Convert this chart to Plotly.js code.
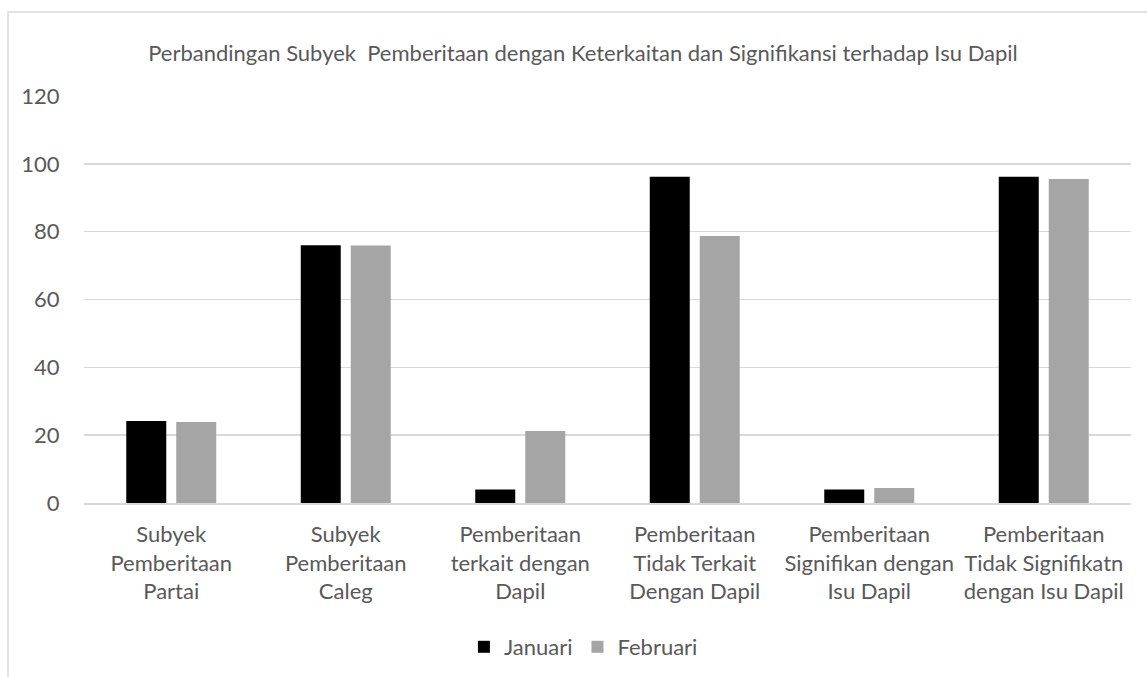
<!DOCTYPE html>
<html>
<head>
<meta charset="utf-8">
<script src="https://cdn.plot.ly/plotly-3.0.1.min.js"></script>
<style>
  html, body { margin: 0; padding: 0; background: #ffffff; }
  #chart { width: 1147px; height: 677px; }
</style>
</head>
<body>
<div id="chart"></div>
<script>
// ---- data ----
var categories = [
  "Subyek Pemberitaan Partai",
  "Subyek Pemberitaan Caleg",
  "Pemberitaan terkait dengan Dapil",
  "Pemberitaan Tidak Terkait Dengan Dapil",
  "Pemberitaan Signifikan dengan Isu Dapil",
  "Pemberitaan Tidak Signifikatn dengan Isu Dapil"
];
var tickLabels = [
  "Subyek<br>Pemberitaan<br>Partai",
  "Subyek<br>Pemberitaan<br>Caleg",
  "Pemberitaan<br>terkait dengan<br>Dapil",
  "Pemberitaan<br>Tidak Terkait<br>Dengan Dapil",
  "Pemberitaan<br>Signifikan dengan<br>Isu Dapil",
  "Pemberitaan<br>Tidak Signifikatn<br>dengan Isu Dapil"
];
var januari  = [24.2, 76.0, 4.0, 96.2, 4.0, 96.2];
var februari = [23.9, 75.9, 21.2, 78.7, 4.4, 95.5];
var yTicks = [0, 20, 40, 60, 80, 100, 120];
var seriesNames = ["Januari", "Februari"];
var chartTitle = "Perbandingan Subyek  Pemberitaan dengan Keterkaitan dan Signifikansi terhadap Isu Dapil";

// ---- layout constants ----
var FONT = "Lato, 'Liberation Sans', sans-serif";
var TEXT = "#595959";
var FS = 22;
var W = 1147, H = 677;
var ML = 84, MR = 16, MT = 96, MB = 174;
var PW = W - ML - MR, PH = H - MT - MB;

var traces = [
  {
    type: "bar", name: seriesNames[0], x: categories, y: januari,
    marker: { color: "#000000", line: { width: 0 } },
    hoverinfo: "x+y"
  },
  {
    type: "bar", name: seriesNames[1], x: categories, y: februari,
    marker: { color: "#a5a5a5", line: { width: 0 } },
    hoverinfo: "x+y"
  }
];

var layout = {
  width: W, height: H,
  margin: { l: ML, r: MR, t: MT, b: MB, pad: 0, autoexpand: false },
  paper_bgcolor: "#ffffff",
  plot_bgcolor: "#ffffff",
  font: { family: FONT, size: FS, color: TEXT },
  title: {
    text: chartTitle,
    font: { family: FONT, size: FS, color: TEXT },
    x: 583 / W, xanchor: "center",
    xref: "container", yref: "container",
    y: 1 - 53 / H, yanchor: "middle"
  },
  barmode: "group",
  bargap: 0.427,
  bargroupgap: 0.2,
  showlegend: true,
  legend: {
    orientation: "h",
    x: 0.477, xanchor: "center",
    yref: "container",
    y: 1 - 647 / H, yanchor: "middle",
    font: { family: FONT, size: FS, color: TEXT },
    traceorder: "normal",
    itemwidth: 30
  },
  xaxis: {
    type: "category",
    tickmode: "array",
    tickvals: categories,
    ticktext: tickLabels,
    tickfont: { family: FONT, size: FS, color: TEXT },
    showgrid: false,
    showline: true, linecolor: "#d9d9d9", linewidth: 1.5,
    ticks: "outside", ticklen: 11, tickcolor: "rgba(0,0,0,0)",
    zeroline: false,
    automargin: false,
    fixedrange: true
  },
  yaxis: {
    range: [0, 120],
    tickmode: "array",
    tickvals: yTicks,
    ticktext: yTicks.map(String),
    tickfont: { family: FONT, size: FS, color: TEXT },
    showgrid: true, gridcolor: "#d9d9d9", gridwidth: 1.5,
    zeroline: false,
    showline: false,
    ticks: "outside", ticklen: 19, tickcolor: "rgba(0,0,0,0)",
    automargin: false,
    fixedrange: true
  },
  shapes: [
    {
      type: "rect", xref: "paper", yref: "paper",
      x0: (8 - ML) / PW, x1: (W + 10 - ML) / PW,
      y0: (MT + PH - (H + 10)) / PH, y1: (MT + PH - 12) / PH,
      line: { color: "#d9d9d9", width: 1.5 },
      fillcolor: "rgba(0,0,0,0)",
      layer: "below"
    }
  ]
};

Plotly.newPlot("chart", traces, layout, { displayModeBar: false, staticPlot: true });
</script>
</body>
</html>
